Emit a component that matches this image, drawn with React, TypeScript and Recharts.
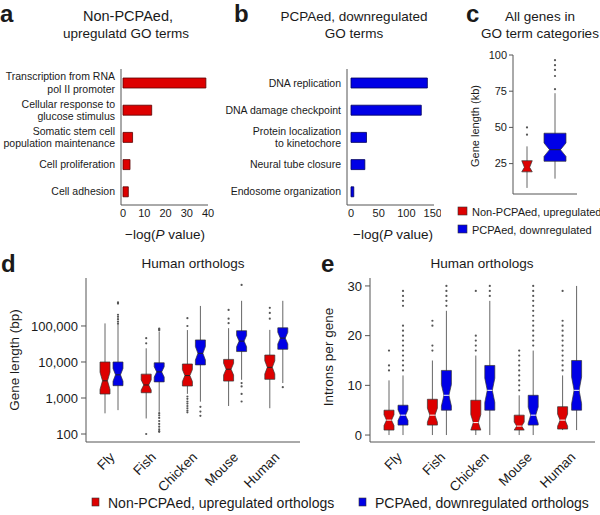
import React from 'react';
import { BarChart, Bar, XAxis, YAxis } from 'recharts';

const FONT = '"Liberation Sans", Arial, Helvetica, sans-serif';
const RED = '#dd0000';
const BLUE = '#0000e6';
const INK = '#1a1a1a';
const AXIS = '#555';

// a: non-PCPAed, upregulated GO terms, -log(P value)
const upTerms = [
  'Transcription from RNA\npol II promoter',
  'Cellular response to\nglucose stimulus',
  'Somatic stem cell\npopulation maintenance',
  'Cell proliferation',
  'Cell adhesion',
];
const upLogP = [39, 13.5, 4.5, 3.3, 2.5];

// b: PCPAed, downregulated GO terms
const downTerms = [
  'DNA replication',
  'DNA damage checkpoint',
  'Protein localization\nto kinetochore',
  'Neural tube closure',
  'Endosome organization',
];
const downLogP = [138, 127, 28, 25, 5];

// c: gene length (kb) — [low whisker, Q1, median, Q3, high whisker]
const cUpBox = [8.2, 19.3, 22.4, 27, 36.9];
const cUpOut = [45, 50];
const cDownBox = [14.6, 26.6, 34.6, 46, 73.6];
const cDownOut = [76.4, 85.5, 89.7, 93, 96.4];

const species = ['Fly', 'Fish', 'Chicken', 'Mouse', 'Human'];

// d: gene length (bp)
const lenUpBoxes = [
  [375, 1290, 3000, 10000, 118000],
  [270, 1400, 2300, 4600, 24000],
  [1300, 2150, 4200, 8800, 77000],
  [600, 2950, 6300, 11800, 87000],
  [520, 3300, 7100, 15600, 78000],
];
const lenUpOutliers = [
  [],
  [100, 33000, 46000],
  [400, 450, 520, 600, 700, 800, 950, 1100, 100000, 165000],
  [120000, 160000, 280000],
  [160000, 230000, 320000],
];
const lenDownBoxes = [
  [460, 2200, 4400, 10000, 107000],
  [415, 2800, 5300, 9500, 70000],
  [790, 8300, 17400, 41000, 360000],
  [3200, 19500, 38000, 74000, 500000],
  [2600, 22500, 46000, 89000, 500000],
];
const lenDownOutliers = [
  [115000, 132000, 155000, 180000, 205000, 420000, 450000],
  [115, 120, 135, 160, 190, 230, 280, 330, 380, 76000, 80000, 85000],
  [320, 420, 570],
  [800, 1300, 2100, 2600, 1380000],
  [2000],
];

// e: introns per gene
const intUpBoxes = [
  [0, 1, 3, 5, 11],
  [0, 2, 4, 7.2, 15],
  [0, 1, 2.5, 7, 16],
  [0, 1, 1.8, 4, 8],
  [1, 1.2, 3, 5.7, 12],
];
const intUpOutliers = [
  [13, 14, 17],
  [17, 18, 22, 23],
  [17, 18, 19, 20, 29],
  [9, 10, 11, 12, 13, 14, 15, 16, 17],
  [13, 14, 15, 16, 17, 18, 19, 20, 21, 22, 23, 29],
];
const intDownBoxes = [
  [0, 2, 4, 6, 12],
  [0, 5, 8, 13, 25],
  [0, 5, 9, 14, 27],
  [0, 2, 4, 8, 17],
  [1, 5, 9, 15, 30],
];
const intDownOutliers = [
  [13, 14, 15, 16, 17, 18, 19, 20, 21, 22, 26, 27, 28, 29],
  [26, 27, 28, 29, 30],
  [28, 29, 30],
  [18, 19, 20, 21, 22, 23, 24, 25, 26, 27, 28, 29, 30],
  [],
];

const upData = upTerms.map((term, i) => ({ term, logP: upLogP[i] }));
const downData = downTerms.map((term, i) => ({ term, logP: downLogP[i] }));

const cData = [
  { name: 'up', range: [cUpBox[0], cUpBox[4]], stats: cUpBox, out: cUpOut },
  { name: 'down', range: [cDownBox[0], cDownBox[4]], stats: cDownBox, out: cDownOut },
];

const boxRows = (up: number[][], upOut: number[][], down: number[][], downOut: number[][]) =>
  species.map((name, i) => ({
    name,
    upRange: [up[i][0], up[i][4]],
    downRange: [down[i][0], down[i][4]],
    up: up[i],
    upOut: upOut[i],
    down: down[i],
    downOut: downOut[i],
  }));

const lenData = boxRows(lenUpBoxes, lenUpOutliers, lenDownBoxes, lenDownOutliers);
const intData = boxRows(intUpBoxes, intUpOutliers, intDownBoxes, intDownOutliers);

type BoxStyle = { fill: string; median: string; notch: number; log?: boolean; boxWidth?: number };

// notched box: whisker range comes from the bar's own y/height, the rest is placed along it
const makeBox = (statsKey: string, outKey: string, style: (i: number) => BoxStyle) => (props: any) => {
  const { x, y, width, height, payload, index } = props;
  if (!payload || height == null) return <g />;
  const s = style(index);
  const stats: number[] = payload[statsKey];
  const outs: number[] = payload[outKey] || [];
  const t = (v: number) => (s.log ? Math.log10(v) : v);
  const top = Math.min(y, y + height);
  const bottom = Math.max(y, y + height);
  const lo = t(stats[0]);
  const hi = t(stats[4]);
  const pyT = (tv: number) => top + ((hi - tv) / (hi - lo)) * (bottom - top);
  const py = (v: number) => pyT(t(v));
  const cx = x + width / 2;
  const w = s.boxWidth ?? width;
  const l = cx - w / 2;
  const r = cx + w / 2;
  const ind = w / 4;
  const tq1 = t(stats[1]);
  const tm = t(stats[2]);
  const tq3 = t(stats[3]);
  const half = s.notch * (tq3 - tq1);
  const yq1 = pyT(tq1);
  const yq3 = pyT(tq3);
  const ym = pyT(tm);
  const ynl = pyT(Math.max(tq1, tm - half));
  const ynh = pyT(Math.min(tq3, tm + half));
  const pts = [
    [l, yq1], [l, ynl], [l + ind, ym], [l, ynh], [l, yq3],
    [r, yq3], [r, ynh], [r - ind, ym], [r, ynl], [r, yq1],
  ].map((p) => p.join(',')).join(' ');
  return (
    <g>
      <line x1={cx} x2={cx} y1={py(stats[0])} y2={py(stats[4])} stroke="#666" strokeWidth={1} />
      {outs.map((v, k) => (
        <circle key={k} cx={cx} cy={py(v)} r={1.1} fill="#555" />
      ))}
      <polygon points={pts} fill={s.fill} stroke="#333" strokeWidth={0.7} />
      <line x1={l + ind} x2={r - ind} y1={ym} y2={ym} stroke={s.median} strokeWidth={1} />
    </g>
  );
};

const TermTick = (props: any) => {
  const { x, y, payload } = props;
  const lines = String(payload.value).split('\n');
  const lh = 12.5;
  const y0 = y + 4 - ((lines.length - 1) * lh) / 2;
  return (
    <text x={x} y={y0} textAnchor="end" fontSize={10.5} fill={INK}>
      {lines.map((ln, i) => (
        <tspan key={i} x={x} y={y0 + i * lh}>{ln}</tspan>
      ))}
    </text>
  );
};

const speciesTick = (dx: number) => (props: any) => {
  const { x, y, payload } = props;
  const ax = x + dx;
  const ay = y + 8;
  return (
    <text x={ax} y={ay} transform={`rotate(-45, ${ax}, ${ay})`} textAnchor="end" fontSize={13.5} fill={INK}>
      {payload.value}
    </text>
  );
};

const fmtComma = (v: number) => v.toLocaleString('en-US');

const GoBars = ({ data, max, ticks, padLeft, fill, stroke, axisWidth }: any) => (
  <BarChart width={axisWidth + 94} height={245} data={data} layout="vertical" margin={{ top: 69, right: 7, bottom: 0, left: 0 }}>
    <XAxis
      type="number"
      domain={[0, max]}
      ticks={ticks}
      padding={{ left: padLeft, right: 0 }}
      height={40}
      tickLine={false}
      tickSize={2}
      tickMargin={2}
      axisLine={{ stroke: AXIS }}
      tick={{ fontSize: 11, fill: INK }}
    />
    <YAxis
      type="category"
      dataKey="term"
      width={axisWidth}
      interval={0}
      tickLine={false}
      tickMargin={0}
      tickSize={6}
      axisLine={{ stroke: AXIS }}
      tick={(p: any) => <TermTick {...p} />}
    />
    <Bar dataKey="logP" fill={fill} stroke={stroke} strokeWidth={0.8} barSize={10} isAnimationActive={false} />
  </BarChart>
);

const upStyle = (log: boolean, median: string) => () => ({ fill: RED, median, notch: 0.27, log });
const downStyle = (log: boolean, median: string) => () => ({ fill: BLUE, median, notch: 0.27, log });
const cStyles: BoxStyle[] = [
  { fill: RED, median: RED, notch: 1, boxWidth: 10.5 },
  { fill: BLUE, median: '#222', notch: 0.24, boxWidth: 22 },
];

const abs = (left: number, top: number): React.CSSProperties => ({ position: 'absolute', left, top });

export default function App() {
  return (
    <div style={{ position: 'absolute', left: 0, top: 0, width: 600, height: 515, background: '#fff', fontFamily: FONT, color: INK, overflow: 'hidden' }}>
      <div style={abs(0, 0)}>
        <GoBars data={upData} max={40} ticks={[0, 10, 20, 30, 40]} padLeft={2} fill={RED} stroke="#5a0000" axisWidth={121} />
      </div>
      <div style={abs(212, 0)}>
        <GoBars data={downData} max={150} ticks={[0, 50, 100, 150]} padLeft={4} fill={BLUE} stroke="#00005a" axisWidth={135} />
      </div>

      <div style={abs(470, 45)}>
        <BarChart width={130} height={160} data={cData} margin={{ top: 10, right: 23, bottom: 0, left: 0 }}>
          <XAxis dataKey="name" height={11} tick={false} tickLine={false} axisLine={{ stroke: AXIS }} padding={{ left: 0, right: 8 }} />
          <YAxis
            type="number"
            domain={[4, 100]}
            allowDataOverflow
            ticks={[25, 50, 75, 100]}
            width={43}
            tickSize={4}
            tickMargin={2}
            axisLine={{ stroke: AXIS }}
            tickLine={{ stroke: AXIS }}
            tick={{ fontSize: 11, fill: INK }}
          />
          <Bar dataKey="range" barSize={22} isAnimationActive={false} shape={makeBox('stats', 'out', (i) => cStyles[i])} />
        </BarChart>
      </div>

      <div style={abs(0, 270)}>
        <BarChart width={302} height={230} data={lenData} margin={{ top: 8, right: 2, bottom: 0, left: 0 }} barGap={3}>
          <XAxis
            dataKey="name"
            height={58}
            interval={0}
            tickLine={false}
            padding={{ left: 5, right: 3 }}
            axisLine={{ stroke: AXIS }}
            tick={speciesTick(4)}
          />
          <YAxis
            type="number"
            scale="log"
            domain={[60, 2150000]}
            allowDataOverflow
            ticks={[100, 1000, 10000, 100000]}
            tickFormatter={fmtComma}
            width={86}
            tickSize={5}
            tickMargin={3}
            axisLine={{ stroke: AXIS }}
            tickLine={{ stroke: AXIS }}
            tick={{ fontSize: 13, fill: INK }}
          />
          <Bar dataKey="upRange" barSize={10} isAnimationActive={false} shape={makeBox('up', 'upOut', upStyle(true, '#222'))} />
          <Bar dataKey="downRange" barSize={10} isAnimationActive={false} shape={makeBox('down', 'downOut', downStyle(true, '#222'))} />
        </BarChart>
      </div>

      <div style={abs(320, 270)}>
        <BarChart width={280} height={230} data={intData} margin={{ top: 8, right: 5, bottom: 0, left: 0 }} barGap={4}>
          <XAxis
            dataKey="name"
            height={58}
            interval={0}
            tickLine={false}
            padding={{ left: 4, right: 4 }}
            axisLine={{ stroke: AXIS }}
            tick={speciesTick(7)}
          />
          <YAxis
            type="number"
            domain={[-1.4, 31.6]}
            allowDataOverflow
            ticks={[0, 10, 20, 30]}
            width={50}
            tickSize={5}
            tickMargin={3}
            axisLine={{ stroke: AXIS }}
            tickLine={{ stroke: AXIS }}
            tick={{ fontSize: 13, fill: INK }}
          />
          <Bar dataKey="upRange" barSize={10} isAnimationActive={false} shape={makeBox('up', 'upOut', upStyle(false, '#fff'))} />
          <Bar dataKey="downRange" barSize={10} isAnimationActive={false} shape={makeBox('down', 'downOut', downStyle(false, '#fff'))} />
        </BarChart>
      </div>

      {/* panel letters, titles, axis titles and legends */}
      <svg width={600} height={515} style={{ position: 'absolute', left: 0, top: 0, pointerEvents: 'none' }} fontFamily={FONT} fill={INK}>
        <g fontSize={24} fontWeight="bold">
          <text x={0} y={22}>a</text>
          <text x={234} y={22}>b</text>
          <text x={466} y={22}>c</text>
          <text x={1} y={272}>d</text>
          <text x={321} y={272}>e</text>
        </g>
        <g fontSize={13.5} textAnchor="middle">
          <text x={128} y={21} fontSize={14.5}>Non-PCPAed,</text>
          <text x={126} y={38}>upregulatd GO terms</text>
          <text x={354} y={21}>PCPAed, downregulated</text>
          <text x={354} y={38}>GO terms</text>
          <text x={540} y={21}>All genes in</text>
          <text x={540} y={38}>GO term categories</text>
          <text x={193} y={268}>Human orthologs</text>
          <text x={482} y={268}>Human orthologs</text>
          <text x={165} y={239}>−log(<tspan fontStyle="italic">P</tspan> value)</text>
          <text x={393} y={239}>−log(<tspan fontStyle="italic">P</tspan> value)</text>
          <text transform="translate(19,360) rotate(-90)">Gene length (bp)</text>
          <text transform="translate(333,357) rotate(-90)">Introns per gene</text>
        </g>
        <text fontSize={11} textAnchor="middle" transform="translate(479,126) rotate(-90)">Gene length (kb)</text>
        <g fontSize={11}>
          <rect x={458} y={207} width={9} height={8} fill={RED} stroke="#333" strokeWidth={0.6} />
          <text x={472} y={216}>Non-PCPAed, upregulated</text>
          <rect x={458} y={225} width={9} height={8} fill={BLUE} stroke="#333" strokeWidth={0.6} />
          <text x={472} y={234}>PCPAed, downregulated</text>
        </g>
        <g fontSize={14}>
          <rect x={92} y={498} width={7} height={8} fill={RED} stroke="#333" strokeWidth={0.6} />
          <text x={108} y={508}>Non-PCPAed, upregulated orthologs</text>
          <rect x={359} y={498} width={7} height={8} fill={BLUE} stroke="#333" strokeWidth={0.6} />
          <text x={375} y={508}>PCPAed, downregulated orthologs</text>
        </g>
      </svg>
    </div>
  );
}
